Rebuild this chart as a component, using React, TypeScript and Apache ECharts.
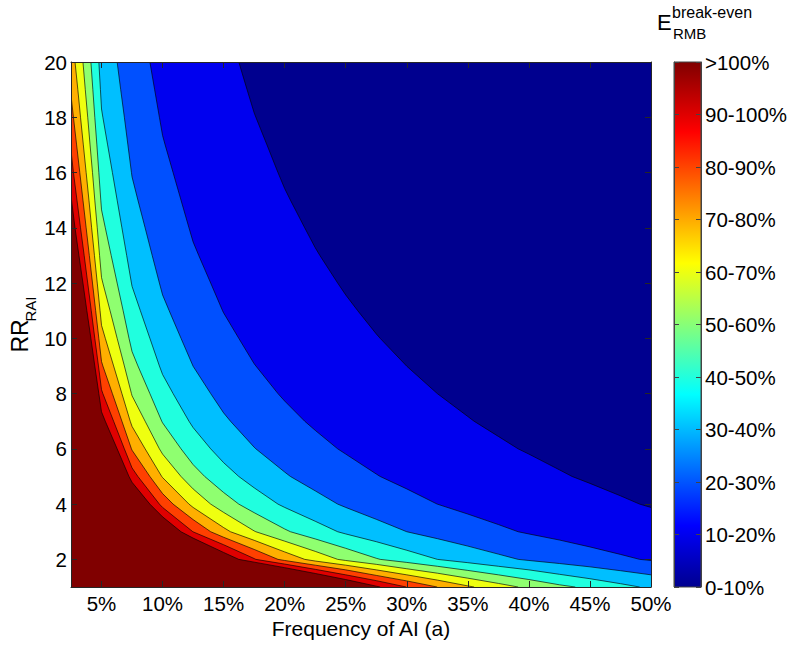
import React, { useEffect, useRef } from 'react';
import * as echarts from 'echarts';

// ---- data ----
const xTicks = [5, 10, 15, 20, 25, 30, 35, 40, 45, 50];
const yTicks = [2, 4, 6, 8, 10, 12, 14, 16, 18, 20];
const colorbarLabels = ['0-10%', '10-20%', '20-30%', '30-40%', '40-50%', '50-60%', '60-70%', '70-80%', '80-90%', '90-100%', '>100%'];
const levels = [10, 20, 30, 40, 50, 60, 70, 80, 90, 100];
const bandColors = ['#00008F', '#0000EF', '#0050FF', '#00BFFF', '#20FFDF', '#8FFF70', '#EFFF10', '#FFAF00', '#FF4000', '#DF0000', '#800000'];

// contour lines [frequency a (%), RR]
const contour10 = [[16.24, 20], [16.92, 19], [17.5, 18.16], [17.64, 18], [18.55, 17], [19.45, 16], [20, 15.42], [20.47, 15], [21.64, 14], [22.5, 13.28], [22.88, 13], [24.34, 12], [25, 11.57], [25.98, 11], [27.5, 10.16], [27.82, 10], [30, 8.99], [32.5, 8], [35, 7.17], [35.51, 7], [37.5, 6.45], [39.12, 6], [40, 5.81], [42.5, 5.24], [43.54, 5], [45, 4.75], [47.5, 4.3], [49.07, 4], [50, 3.88]];
const contour20 = [[8.96, 20], [9.35, 19], [9.74, 18], [10, 17.34], [10.21, 17], [10.86, 16], [11.51, 15], [12.16, 14], [12.5, 13.49], [12.96, 13], [13.94, 12], [14.91, 11], [15, 10.92], [16.24, 10], [17.5, 9.08], [17.64, 9], [19.45, 8], [20, 7.73], [21.64, 7], [22.5, 6.67], [24.34, 6], [25, 5.81], [27.5, 5.09], [27.82, 5], [30, 4.55], [32.49, 4], [35, 3.64], [37.5, 3.26], [39.12, 3], [40, 2.92], [42.5, 2.7], [45, 2.45], [47.5, 2.18], [49.07, 2], [50, 1.96]];
const contour30 = [[6.28, 20], [6.57, 19], [6.87, 18], [7.16, 17], [7.45, 16], [7.5, 15.84], [7.98, 15], [8.57, 14], [9.15, 13], [9.74, 12], [10, 11.57], [10.54, 11], [11.51, 10], [12.5, 8.99], [13.94, 8], [15, 7.3], [15.56, 7], [17.5, 6.06], [17.64, 6], [20, 5.16], [20.47, 5], [22.5, 4.48], [24.34, 4], [25, 3.88], [27.5, 3.45], [30, 3], [32.5, 2.75], [35, 2.48], [37.5, 2.19], [39.12, 2], [40, 1.96], [42.5, 1.85], [45, 1.73], [47.5, 1.59], [50, 1.44]];
const contour40 = [[4.78, 20], [4.91, 19], [5, 18.3], [5.11, 18], [5.5, 17], [5.89, 16], [6.28, 15], [6.67, 14], [7.06, 13], [7.45, 12], [7.5, 11.88], [8.18, 11], [8.96, 10], [9.74, 9], [10, 8.69], [10.86, 8], [12.16, 7], [12.5, 6.77], [13.94, 6], [15, 5.5], [16.24, 5], [17.5, 4.59], [19.45, 4], [20, 3.88], [22.5, 3.38], [24.34, 3], [25, 2.92], [27.5, 2.64], [30, 2.33], [32.5, 2], [35, 1.88], [37.5, 1.75], [40, 1.62], [42.5, 1.46], [45, 1.3], [47.5, 1.12], [49.07, 1]];
const contour50 = [[4.13, 20], [4.29, 19], [4.45, 18], [4.62, 17], [4.78, 16], [4.94, 15], [5, 14.65], [5.31, 14], [5.79, 13], [6.28, 12], [6.77, 11], [7.25, 10], [7.5, 9.52], [7.98, 9], [8.96, 8], [9.93, 7], [10, 6.94], [11.51, 6], [12.5, 5.43], [13.45, 5], [15, 4.42], [16.24, 4], [17.5, 3.69], [20, 3.1], [20.47, 3], [22.5, 2.74], [25, 2.4], [27.5, 2.04], [27.82, 2], [30, 1.89], [32.5, 1.75], [35, 1.6], [37.5, 1.44], [40, 1.27], [42.5, 1.08], [43.8, 1]];
const contour60 = [[3.48, 20], [3.67, 19], [3.87, 18], [4.06, 17], [4.26, 16], [4.45, 15], [4.65, 14], [4.84, 13], [5, 12.2], [5.11, 12], [5.7, 11], [6.28, 10], [6.87, 9], [7.45, 8], [7.5, 7.92], [8.57, 7], [9.74, 6], [10, 5.81], [11.51, 5], [12.5, 4.55], [13.94, 4], [15, 3.7], [17.5, 3.03], [17.64, 3], [20, 2.66], [22.5, 2.29], [24.34, 2], [25, 1.96], [27.5, 1.82], [30, 1.66], [32.5, 1.5], [35, 1.32], [37.5, 1.13], [39.12, 1]];
const contour70 = [[2.83, 20], [3.06, 19], [3.28, 18], [3.51, 17], [3.74, 16], [3.97, 15], [4.19, 14], [4.42, 13], [4.65, 12], [4.88, 11], [5, 10.47], [5.31, 10], [5.99, 9], [6.67, 8], [7.35, 7], [7.5, 6.81], [8.57, 6], [9.93, 5], [10, 4.96], [12.16, 4], [12.5, 3.88], [15, 3.15], [15.56, 3], [17.5, 2.69], [20, 2.27], [21.64, 2], [22.5, 1.94], [25, 1.79], [27.5, 1.62], [30, 1.44], [32.5, 1.25], [35, 1.04], [35.51, 1]];
const contour80 = [[2.5, 18.8], [2.7, 18], [2.96, 17], [3.22, 16], [3.48, 15], [3.74, 14], [4, 13], [4.26, 12], [4.52, 11], [4.78, 10], [5, 9.16], [5.11, 9], [5.89, 8], [6.67, 7], [7.45, 6], [7.5, 5.95], [8.96, 5], [10, 4.38], [10.86, 4], [12.5, 3.44], [13.94, 3], [15, 2.8], [17.5, 2.36], [19.45, 2], [20, 1.96], [22.5, 1.79], [25, 1.62], [27.5, 1.42], [30, 1.22], [32.49, 1]];
const contour90 = [[2.5, 16.8], [2.7, 16], [2.99, 15], [3.28, 14], [3.58, 13], [3.87, 12], [4.16, 11], [4.45, 10], [4.75, 9], [5, 8.14], [5.11, 8], [5.99, 7], [6.87, 6], [7.5, 5.31], [7.98, 5], [9.74, 4], [10, 3.88], [12.48, 3], [15, 2.53], [17.5, 2.03], [17.64, 2], [20, 1.83], [22.5, 1.64], [25, 1.44], [27.5, 1.23], [29.96, 1]];
const contour100 = [[2.5, 15.15], [2.83, 14], [3.15, 13], [3.48, 12], [3.8, 11], [4.13, 10], [4.45, 9], [4.78, 8], [5, 7.34], [5.31, 7], [6.28, 6], [7.25, 5], [7.5, 4.79], [8.96, 4], [10, 3.54], [11.51, 3], [12.5, 2.77], [15, 2.25], [16.24, 2], [17.5, 1.9], [20, 1.7], [22.5, 1.49], [25, 1.27], [27.5, 1.03], [27.82, 1]];
const contours = [contour10, contour20, contour30, contour40, contour50, contour60, contour70, contour80, contour90, contour100];

const X_MIN = 2.5, X_MAX = 50, Y_MIN = 1, Y_MAX = 20;
const FONT = "'Liberation Sans', Arial, Helvetica, sans-serif";
const AXIS_COLOR = '#262626';

export default function App() {
  const ref = useRef<HTMLDivElement>(null);

  useEffect(() => {
    if (!ref.current) return;
    const chart = echarts.init(ref.current, undefined, { renderer: 'svg' });

    const renderContour = (params: any, api: any) => {
      const i = params.dataIndex;
      const line = contours[i];
      const first = line[0];
      const last = line[line.length - 1];
      const poly: number[][] = [];
      if (first[1] >= Y_MAX) poly.push([X_MIN, Y_MAX]);
      line.forEach((p) => poly.push(p));
      if (last[0] >= X_MAX) poly.push([X_MAX, Y_MIN]);
      poly.push([X_MIN, Y_MIN]);
      return {
        type: 'group',
        children: [
          {
            type: 'polygon',
            shape: { points: poly.map((p) => api.coord(p)) },
            style: { fill: bandColors[i + 1], lineWidth: 0 },
          },
          {
            type: 'polyline',
            shape: { points: line.map((p) => api.coord(p)) },
            style: { stroke: 'rgba(0,0,0,0.8)', lineWidth: 0.8, fill: 'none' },
          },
        ],
      };
    };

    const renderColorbar = (params: any, api: any) => {
      const p0 = api.coord([0, 0]);
      const p1 = api.coord([1, colorbarLabels.length - 1]);
      return {
        type: 'rect',
        shape: { x: p0[0], y: p1[1], width: p1[0] - p0[0], height: p0[1] - p1[1] },
        style: {
          fill: new echarts.graphic.LinearGradient(0, 1, 0, 0, [
            { offset: 0, color: '#00008F' },
            { offset: 0.117, color: '#0000FF' },
            { offset: 0.367, color: '#00FFFF' },
            { offset: 0.617, color: '#FFFF00' },
            { offset: 0.867, color: '#FF0000' },
            { offset: 1, color: '#800000' },
          ]),
          stroke: '#444',
          lineWidth: 1,
        },
      };
    };

    const lineStyle = { color: AXIS_COLOR, width: 1 };
    const labelStyle = { color: '#000', fontSize: 20.5, fontFamily: FONT };

    const option: any = {
      animation: false,
      grid: [
        { left: 71, top: 62, width: 580, height: 525, show: true, backgroundColor: bandColors[0], borderWidth: 0 },
        { left: 674, top: 62, width: 27, height: 525, show: false },
      ],
      xAxis: [
        {
          gridIndex: 0, type: 'value', min: X_MIN, max: X_MAX, position: 'bottom', z: 5,
          axisLine: { show: true, onZero: false, lineStyle },
          axisTick: { show: true, inside: true, length: 6, customValues: xTicks, lineStyle },
          axisLabel: { customValues: xTicks, formatter: '{value}%', margin: 6, ...labelStyle },
          splitLine: { show: false },
          name: 'Frequency of AI (a)', nameLocation: 'middle', nameGap: 31, nameMoveOverlap: false,
          nameTextStyle: { color: '#000', fontSize: 21, fontFamily: FONT },
        },
        {
          gridIndex: 0, type: 'value', min: X_MIN, max: X_MAX, position: 'top', z: 5,
          axisLine: { show: true, onZero: false, lineStyle },
          axisTick: { show: true, inside: true, length: 6, customValues: xTicks, lineStyle },
          axisLabel: { show: false },
          splitLine: { show: false },
        },
        { gridIndex: 1, type: 'value', min: 0, max: 1, show: false },
      ],
      yAxis: [
        {
          gridIndex: 0, type: 'value', min: Y_MIN, max: Y_MAX, position: 'left', z: 5,
          axisLine: { show: true, onZero: false, lineStyle },
          axisTick: { show: true, inside: true, length: 6, customValues: yTicks, lineStyle },
          axisLabel: { customValues: yTicks, margin: 4, ...labelStyle },
          splitLine: { show: false },
        },
        {
          gridIndex: 0, type: 'value', min: Y_MIN, max: Y_MAX, position: 'right', z: 5,
          axisLine: { show: true, onZero: false, lineStyle },
          axisTick: { show: true, inside: true, length: 6, customValues: yTicks, lineStyle },
          axisLabel: { show: false },
          splitLine: { show: false },
        },
        {
          gridIndex: 1, type: 'value', min: 0, max: colorbarLabels.length - 1, interval: 1, position: 'right', z: 5,
          axisLine: { show: true, onZero: false, lineStyle: { color: '#444', width: 1 } },
          axisTick: { show: true, inside: true, length: 5, lineStyle: { color: '#444', width: 1 } },
          axisLabel: { margin: 4, formatter: (v: number) => colorbarLabels[Math.round(v)], ...labelStyle },
          splitLine: { show: false },
        },
        {
          gridIndex: 1, type: 'value', min: 0, max: colorbarLabels.length - 1, interval: 1, position: 'left', z: 5,
          axisLine: { show: true, onZero: false, lineStyle: { color: '#444', width: 1 } },
          axisTick: { show: true, inside: true, length: 5, lineStyle: { color: '#444', width: 1 } },
          axisLabel: { show: false },
          splitLine: { show: false },
        },
      ],
      series: [
        {
          type: 'custom', name: 'E break-even', xAxisIndex: 0, yAxisIndex: 0, z: 2, clip: true, silent: true,
          renderItem: renderContour,
          encode: { x: 0, y: 1 },
          data: levels.map((lv) => [X_MIN, Y_MIN, lv]),
        },
        {
          type: 'custom', name: 'colorbar', xAxisIndex: 2, yAxisIndex: 2, z: 2, silent: true,
          renderItem: renderColorbar,
          encode: { x: 0, y: 1 },
          data: [[0, 0]],
        },
      ],
      graphic: [
        { type: 'text', x: 20, y: 336, rotation: Math.PI / 2, style: { text: 'RR', fill: '#000', fontSize: 23, fontFamily: FONT, align: 'center', verticalAlign: 'middle' } },
        { type: 'text', x: 30, y: 309, rotation: Math.PI / 2, style: { text: 'RAI', fill: '#000', fontSize: 15, fontFamily: FONT, align: 'center', verticalAlign: 'middle' } },
        { type: 'text', x: 657, y: 22.5, style: { text: 'E', fill: '#000', fontSize: 22, fontFamily: FONT, align: 'left', verticalAlign: 'middle' } },
        { type: 'text', x: 672, y: 12.8, style: { text: 'break-even', fill: '#000', fontSize: 16, fontFamily: FONT, align: 'left', verticalAlign: 'middle' } },
        { type: 'text', x: 673, y: 33, style: { text: 'RMB', fill: '#000', fontSize: 15, fontFamily: FONT, align: 'left', verticalAlign: 'middle' } },
      ],
    };

    chart.setOption(option);
    return () => chart.dispose();
  }, []);

  return <div ref={ref} style={{ position: 'absolute', left: 0, top: 0, width: 795, height: 646, background: '#fff' }} />;
}
